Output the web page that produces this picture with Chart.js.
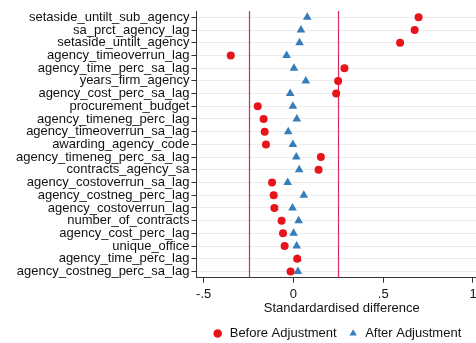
<!DOCTYPE html>
<html lang="en">
<head>
<meta charset="UTF-8">
<title>Standardised difference</title>
<script src="https://cdn.jsdelivr.net/npm/chart.js@4.4.1/dist/chart.umd.min.js"></script>
<style>
  body { margin: 0; background: #fff; }
  #wrap { width: 476px; height: 343px; overflow: hidden; }
  canvas { display: block; }
</style>
</head>
<body>
<div id="wrap"><canvas id="chart" width="492" height="350"></canvas></div>
<script>
const rowLabels = [
  'setaside_untilt_sub_agency', 'sa_prct_agency_lag', 'setaside_untilt_agency',
  'agency_timeoverrun_lag', 'agency_time_perc_sa_lag', 'years_firm_agency',
  'agency_cost_perc_sa_lag', 'procurement_budget', 'agency_timeneg_perc_lag',
  'agency_timeoverrun_sa_lag', 'awarding_agency_code', 'agency_timeneg_perc_sa_lag',
  'contracts_agency_sa', 'agency_costoverrun_sa_lag', 'agency_costneg_perc_lag',
  'agency_costoverrun_lag', 'number_of_contracts', 'agency_cost_perc_lag',
  'unique_office', 'agency_time_perc_lag', 'agency_costneg_perc_sa_lag'
];
const beforeAdj = [0.697, 0.675, 0.594, -0.349, 0.284, 0.249, 0.238, -0.199, -0.166, -0.160, -0.153,
  0.153, 0.140, -0.119, -0.110, -0.106, -0.066, -0.058, -0.049, 0.021, -0.016];
const afterAdj = [0.077, 0.042, 0.034, -0.038, 0.003, 0.069, -0.018, -0.003, 0.019, -0.029, -0.003,
  0.016, 0.032, -0.032, 0.058, -0.005, 0.029, 0.001, 0.018, 0.023, 0.025];
const xTicks = [-0.5, 0, 0.5, 1];
const xTickLabels = ['-.5', '0', '.5', '1'];
const refLines = [-0.25, 0.25];

const refLinePlugin = {
  id: 'refLines',
  afterLayout(chart) {
    // legend sits a little left of the plot centre in the original
    chart.legend.left -= 5;
    chart.legend.right -= 5;
  },
  beforeDatasetsDraw(chart) {
    const ctx = chart.ctx, area = chart.chartArea, x = chart.scales.x;
    ctx.save();
    ctx.strokeStyle = '#d8285a';
    ctx.lineWidth = 1.2;
    refLines.forEach(v => {
      const px = Math.round(x.getPixelForValue(v)) + 0.5;
      ctx.beginPath();
      ctx.moveTo(px, area.top);
      ctx.lineTo(px, area.bottom);
      ctx.stroke();
    });
    ctx.restore();
  }
};

Chart.defaults.font.family = '"Liberation Sans", Arial, sans-serif';
Chart.defaults.font.size = 13;
Chart.defaults.color = '#111';

new Chart(document.getElementById('chart'), {
  type: 'scatter',
  data: {
    datasets: [{
      label: 'Before Adjustment',
      data: rowLabels.map((l, i) => ({ x: beforeAdj[i], y: l })),
      pointStyle: 'circle',
      pointRadius: 4,
      backgroundColor: '#e8141c',
      borderColor: '#e8141c',
      borderWidth: 0
    }, {
      label: 'After Adjustment',
      data: rowLabels.map((l, i) => ({ x: afterAdj[i], y: l })),
      pointStyle: 'triangle',
      pointRadius: 5,
      backgroundColor: '#377eb8',
      borderColor: '#377eb8',
      borderWidth: 0
    }]
  },
  options: {
    responsive: false,
    animation: false,
    layout: { padding: { top: 11, left: 14, right: 0, bottom: 0 } },
    scales: {
      x: {
        type: 'linear',
        min: -0.54,
        max: 1.078,
        afterBuildTicks: s => { s.ticks = xTicks.map(v => ({ value: v })); },
        ticks: {
          callback: (v) => xTickLabels[xTicks.indexOf(v)],
          padding: 4,
          color: '#111'
        },
        grid: { drawOnChartArea: false, tickLength: 5, tickColor: '#333' },
        border: { color: '#333', width: 1 },
        title: { display: true, text: 'Standardardised difference', padding: { top: -6, bottom: 0 }, color: '#111' }
      },
      y: {
        type: 'category',
        labels: rowLabels,
        offset: true,
        ticks: { autoSkip: false, padding: 2, color: '#111' },
        grid: { offset: false, color: '#ececec', tickColor: '#333', tickLength: 5 },
        border: { color: '#333', width: 1 }
      }
    },
    plugins: {
      legend: {
        position: 'bottom',
        fullSize: false,
        labels: { usePointStyle: true, boxWidth: 11, boxHeight: 6, padding: 11, color: '#111' }
      },
      tooltip: { enabled: false }
    }
  },
  plugins: [refLinePlugin]
});
</script>
</body>
</html>
